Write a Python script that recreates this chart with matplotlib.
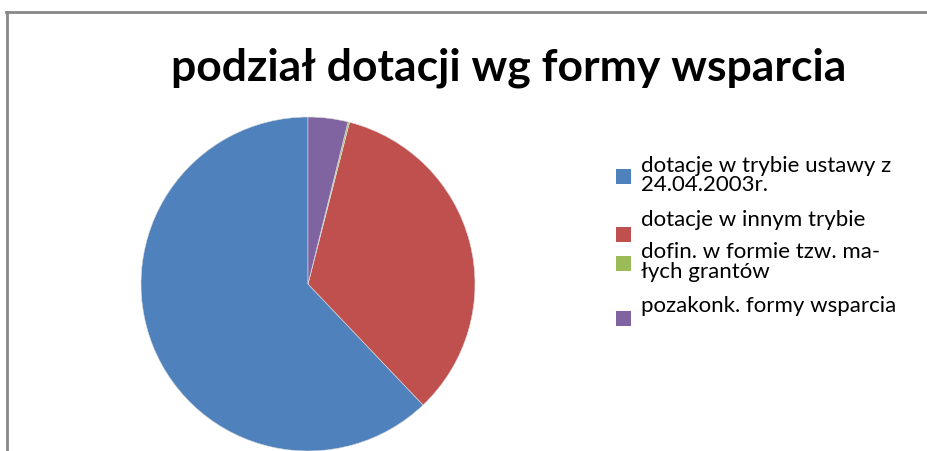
import matplotlib
matplotlib.use("Agg")
import matplotlib.pyplot as plt
from matplotlib.patches import Rectangle
from matplotlib.lines import Line2D

title = "podział dotacji wg formy wsparcia"
labels = ["dotacje w trybie ustawy z\n24.04.2003r.",
          "dotacje w innym trybie",
          "dofin. w formie tzw. ma-\nłych grantów",
          "pozakonk. formy wsparcia"]
values = [62.1, 33.9, 0.15, 3.85]
colors = ["#4F81BD", "#C0504D", "#9BBB59", "#8064A2"]

W, H = 928, 452
fig = plt.figure(figsize=(W / 100, H / 100), dpi=100)
fig.patch.set_facecolor("white")

# chart frame (top and left visible)
fig.add_artist(Line2D([6 / W, 1], [1 - 13 / H, 1 - 13 / H], color="#888888", lw=2))
fig.add_artist(Line2D([7 / W, 7 / W], [0, 1 - 13 / H], color="#888888", lw=2))

fig.text(509 / W, 1 - 68 / H, title, ha="center", va="center",
         fontsize=32, fontweight="bold", family="Lato")

# pie: centre (308, 285), radius 167 px
r = 167
ax = fig.add_axes([(308 - r) / W, (H - 285 - r) / H, 2 * r / W, 2 * r / H])
ax.pie(values, colors=colors, startangle=90, counterclock=True, radius=1,
       wedgeprops=dict(linewidth=0.4, edgecolor="#dddddd"))
ax.set_xlim(-1, 1)
ax.set_ylim(-1, 1)
ax.set_aspect("equal")
ax.axis("off")

# legend, drawn by hand line by line
baselines = [171.5, 226.5, 258.5, 311.5]
box_y = [177.5, 235, 264.5, 319.5]
line_gap = 19.5
for lab, c, b0, by in zip(labels, colors, baselines, box_y):
    fig.add_artist(Rectangle((616 / W, 1 - (by + 7.5) / H), 15 / W, 15 / H,
                             transform=fig.transFigure, facecolor=c, edgecolor="none"))
    for i, part in enumerate(lab.split("\n")):
        fig.text(641 / W, 1 - (b0 + i * line_gap) / H, part, ha="left", va="baseline",
                 fontsize=16, family="Lato")

fig.savefig("out.png", dpi=100, facecolor="white")
